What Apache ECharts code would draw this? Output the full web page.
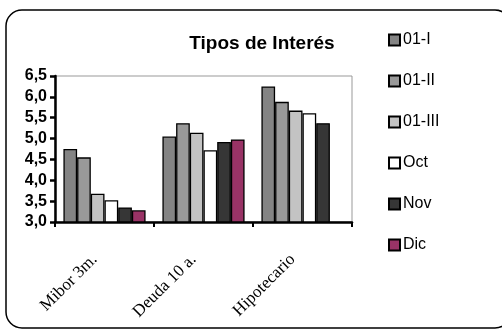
<!DOCTYPE html>
<html><head><meta charset="utf-8">
<script src="https://cdn.jsdelivr.net/npm/echarts@6/dist/echarts.min.js"></script>
<style>html,body{margin:0;padding:0;background:#fff}#c{width:502px;height:331px}</style>
</head><body><div id="c"></div>
<script>
const categories = ['Mibor 3m.', 'Deuda 10 a.', 'Hipotecario'];
const seriesNames = ['01-I', '01-II', '01-III', 'Oct', 'Nov', 'Dic'];
const s01I   = [4.75, 5.05, 6.25];
const s01II  = [4.55, 5.37, 5.88];
const s01III = [3.68, 5.14, 5.67];
const sOct   = [3.52, 4.72, 5.61];
const sNov   = [3.35, 4.92, 5.37];
const sDic   = [3.28, 4.98, null];
const seriesData = [s01I, s01II, s01III, sOct, sNov, sDic];
const colors = ['#848484', '#999999', '#c3c3c3', '#ffffff', '#363636', '#993366'];

const chart = echarts.init(document.getElementById('c'));
chart.setOption({
  animation: false,
  title: {
    text: 'Tipos de Interés', left: 257, top: 29, textAlign: 'center',
    textStyle: { fontFamily: 'Liberation Sans, Arial', fontWeight: 'bold', fontSize: 19, color: '#000' }
  },
  graphic: [{
    type: 'rect', shape: { x: 6, y: 10, width: 505, height: 318, r: 16 },
    style: { fill: 'none', stroke: '#000', lineWidth: 1.5 }, z: 100
  }],
  legend: {
    orient: 'vertical', left: 383, top: 27,
    itemWidth: 11, itemHeight: 11, itemGap: 25,
    icon: 'rect',
    textStyle: { fontFamily: 'Liberation Sans, Arial', fontSize: 16, color: '#000', padding: [0, 0, 0, -2] },
    data: seriesNames
  },
  grid: { left: 55, top: 76, right: 150, bottom: 109, show: true, borderColor: '#999', borderWidth: 1, backgroundColor: 'transparent' },
  xAxis: {
    type: 'category', data: categories,
    axisLine: { lineStyle: { color: '#000', width: 2.5 } },
    axisTick: { show: true, inside: false, length: 5, lineStyle: { color: '#000', width: 2 } },
    axisLabel: { rotate: 45, margin: 25, padding: [17, 14, 0, 0], fontFamily: 'Liberation Serif, Times New Roman', fontSize: 17, color: '#000' }
  },
  yAxis: {
    type: 'value', min: 3, max: 6.5, interval: 0.5,
    axisLine: { show: true, lineStyle: { color: '#000', width: 2.5 } },
    axisTick: { show: true, inside: false, length: 5, lineStyle: { color: '#000', width: 2.5 } },
    splitLine: { show: false },
    axisLabel: {
      margin: 8, fontFamily: 'Liberation Sans, Arial', fontWeight: 'bold', fontSize: 16, color: '#000',
      formatter: v => v.toFixed(1).replace('.', ',')
    }
  },
  series: seriesNames.map((n, i) => ({
    name: n, type: 'bar', data: seriesData[i],
    barGap: '0%', barCategoryGap: '17%',
    itemStyle: { color: colors[i], borderColor: '#000', borderWidth: 1.3 }
  }))
});
</script></body></html>
